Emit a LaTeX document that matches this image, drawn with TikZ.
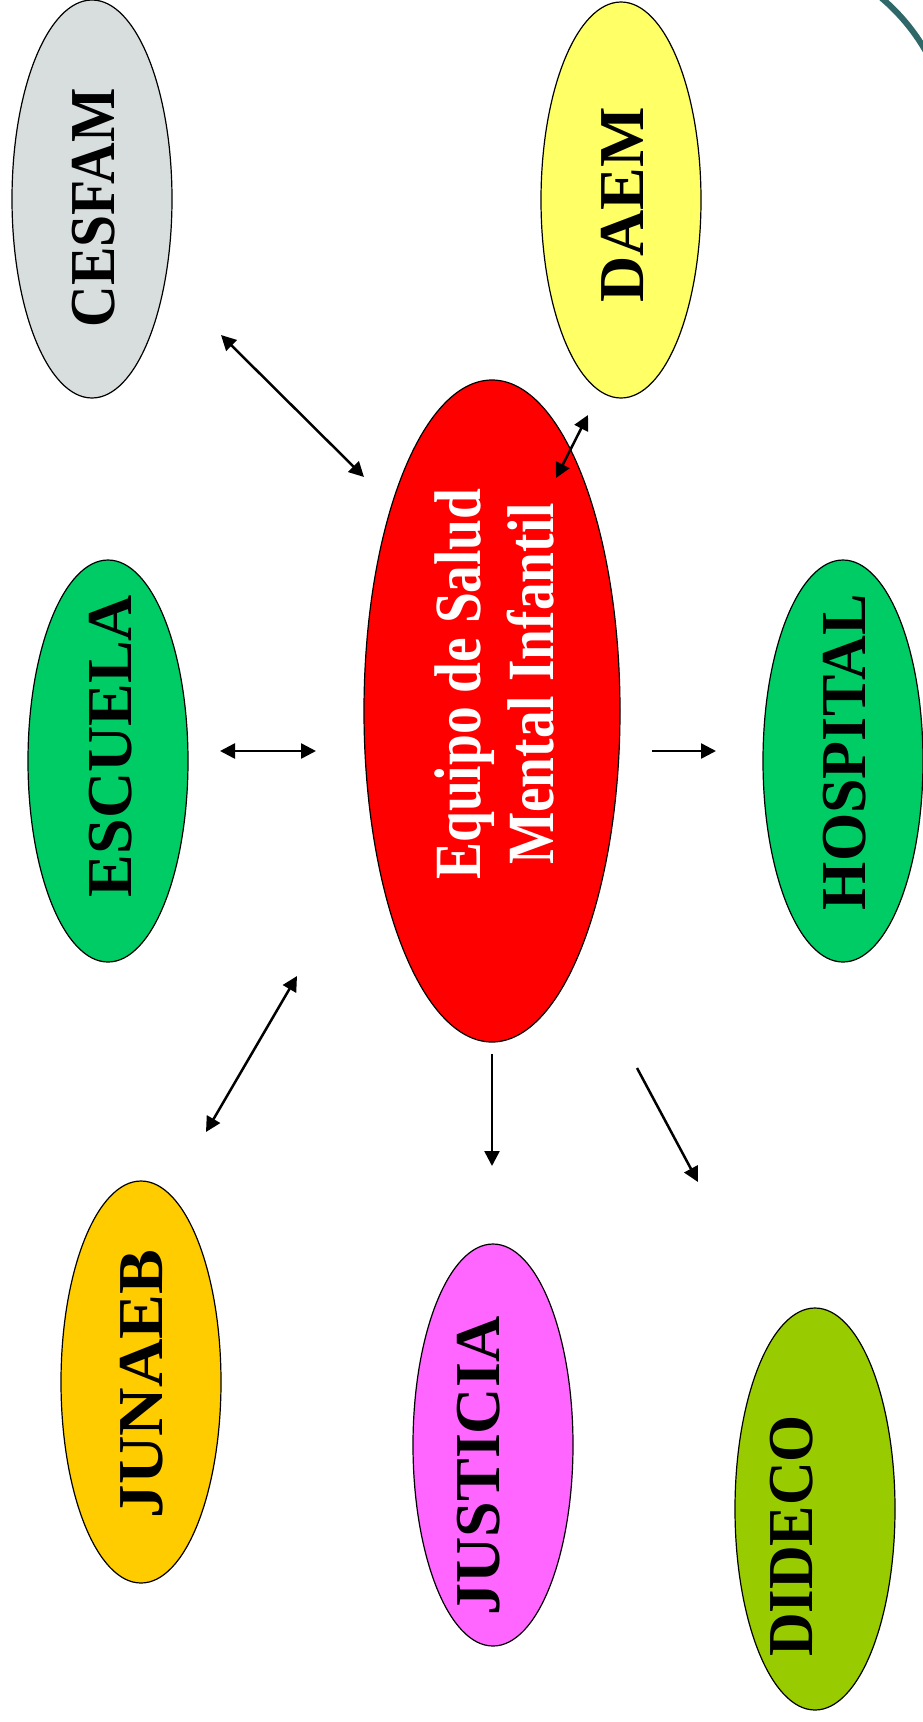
\documentclass[tikz,border=0pt]{standalone}
\usepackage{fontspec}
\setmainfont{Liberation Serif}
\usetikzlibrary{arrows.meta}
\definecolor{gris}{HTML}{D8DEDE}
\definecolor{amarillo}{HTML}{FFFF66}
\definecolor{verde}{HTML}{00CC66}
\definecolor{naranja}{HTML}{FFCC00}
\definecolor{rosa}{HTML}{FF66FF}
\definecolor{oliva}{HTML}{99CC00}
\definecolor{borde}{HTML}{2F6868}

\begin{document}
\begin{tikzpicture}[x=1pt,y=-1pt,
  etiqueta/.style={rotate=90,xscale=#1,inner sep=0pt,font=\bfseries\fontsize{64}{70}\selectfont},
  etiqueta/.default=1,
  burbuja/.style={draw=black,line width=1.2pt},
  flecha/.style={line width=2.5pt,-{Triangle[length=15pt,width=15pt]}},
  flechas/.style={line width=2.5pt,{Triangle[length=15pt,width=15pt]}-{Triangle[length=15pt,width=15pt]}}]
  \useasboundingbox (0,0) rectangle (922,1722);

  %corner of the frame
  \draw[line width=6pt,borde] (878,-5) .. controls (896,10) and (913,28) .. (928,55);

  %bubbles
  \filldraw[burbuja,fill=gris] (92,199) ellipse (80pt and 199pt);
  \filldraw[burbuja,fill=amarillo] (621,200) ellipse (80pt and 198pt);
  \filldraw[burbuja,fill=red] (492,711) ellipse (128pt and 331pt);
  \filldraw[burbuja,fill=verde] (108,761) ellipse (80pt and 201pt);
  \filldraw[burbuja,fill=verde] (843,761) ellipse (80pt and 201pt);
  \filldraw[burbuja,fill=naranja] (141,1382) ellipse (80pt and 201pt);
  \filldraw[burbuja,fill=rosa] (493,1445) ellipse (80pt and 201pt);
  \filldraw[burbuja,fill=oliva] (815,1509) ellipse (80pt and 201pt);

  %names
  \node[etiqueta=0.9] (cesfam) at (94,208) {CESFAM};
  \node[etiqueta] (daem) at (622,205) {DAEM};
  \node[etiqueta=0.84,text=white,align=center,font=\bfseries\fontsize{66}{73}\selectfont] (salud) at (494,684) {Equipo de Salud\\Mental Infantil};
  \node[etiqueta] (escuela) at (111,746) {ESCUELA};
  \node[etiqueta=0.97] (hospital) at (845,752) {HOSPITAL};
  \node[etiqueta=1.05] (junaeb) at (142,1384) {JUNAEB};
  \node[etiqueta] (justicia) at (479,1466) {JUSTICIA};
  \node[etiqueta=0.945] (dideco) at (792,1536) {DIDECO};

  %arrow ends
  \coordinate (c1) at (221,335);  \coordinate (c2) at (364,477);
  \coordinate (d1) at (588,415);  \coordinate (d2) at (556,478);
  \coordinate (e1) at (220,751);  \coordinate (e2) at (316,751);
  \coordinate (h1) at (652,751);  \coordinate (h2) at (716,751);
  \coordinate (j1) at (206,1132); \coordinate (j2) at (297,976);
  \coordinate (u1) at (492,1054); \coordinate (u2) at (492,1166);
  \coordinate (o1) at (637,1068); \coordinate (o2) at (698,1182);

  %arrows
  \draw[flechas] (c1) -- (c2);
  \draw[flechas] (d1) -- (d2);
  \draw[flechas] (e1) -- (e2);
  \draw[flecha] (h1) -- (h2);
  \draw[flechas] (j1) -- (j2);
  \draw[flecha] (u1) -- (u2);
  \draw[flecha] (o1) -- (o2);
\end{tikzpicture}
\end{document}
